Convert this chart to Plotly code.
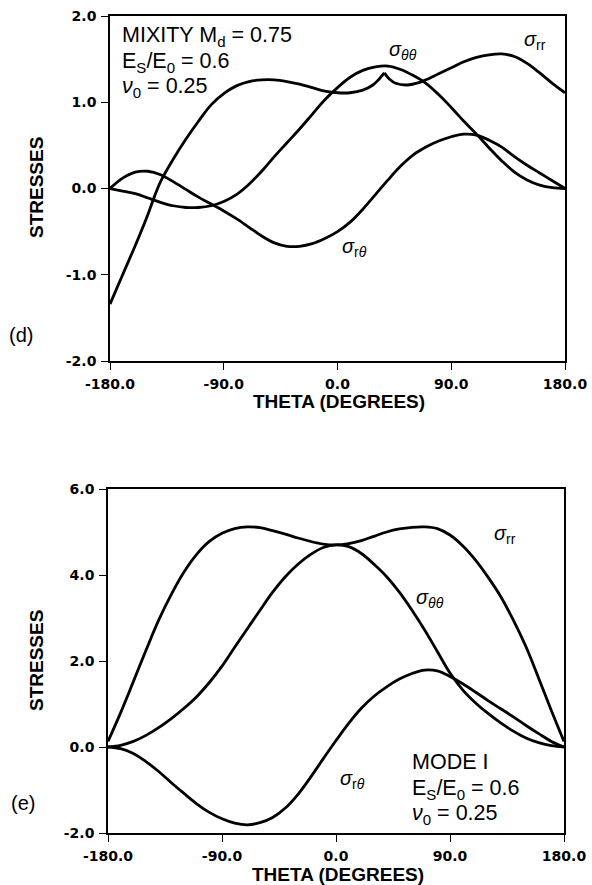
import plotly.graph_objects as go

# ---------------- data ----------------
# panel (d): mixity 0.75
THETA_D_RR = [-180, -170, -160, -150, -145, -140, -130, -120, -110, -100, -90, -80, -70, -60, -50,
              -40, -30, -20, -10, 0, 10, 20, 28, 33, 37, 41, 46, 55, 65, 70, 80, 90, 100, 110,
              120, 130, 140, 150, 160, 170, 180]
D_SRR = [-1.34, -1.0, -0.66, -0.30, -0.10, 0.08, 0.34, 0.57, 0.78, 0.97, 1.10, 1.19, 1.24, 1.26, 1.26,
         1.24, 1.21, 1.17, 1.13, 1.11, 1.11, 1.14, 1.20, 1.27, 1.34, 1.27, 1.22, 1.20, 1.23, 1.26, 1.33,
         1.40, 1.47, 1.52, 1.55, 1.56, 1.53, 1.45, 1.34, 1.22, 1.11]
CUSP_THETA = 37

THETA = [-180, -170, -160, -150, -140, -130, -120, -110, -100, -90, -80, -70, -60, -50, -40, -30,
         -20, -10, 0, 10, 20, 30, 40, 50, 60, 70, 80, 90, 100, 110, 120, 130, 140, 150, 160, 170, 180]
D_STT = [0, -0.03, -0.06, -0.11, -0.16, -0.20, -0.22, -0.22, -0.20, -0.15, -0.07, 0.05, 0.20, 0.37,
         0.53, 0.69, 0.86, 1.03, 1.17, 1.29, 1.37, 1.41, 1.42, 1.38, 1.31, 1.22, 1.09, 0.94, 0.78,
         0.63, 0.47, 0.32, 0.19, 0.10, 0.04, 0.01, 0]
D_SRT = [0, 0.12, 0.19, 0.20, 0.16, 0.08, -0.01, -0.10, -0.18, -0.26, -0.35, -0.45, -0.55, -0.63,
         -0.67, -0.67, -0.64, -0.58, -0.50, -0.39, -0.24, -0.07, 0.10, 0.26, 0.39, 0.48, 0.55, 0.60,
         0.63, 0.62, 0.56, 0.48, 0.37, 0.27, 0.18, 0.09, 0]

# panel (e): mode I
E_SRR = [0.13, 0.80, 1.52, 2.25, 2.95, 3.55, 4.07, 4.48, 4.78, 4.97, 5.08, 5.12, 5.10, 5.03, 4.95,
         4.86, 4.78, 4.72, 4.70, 4.73, 4.80, 4.90, 5.00, 5.07, 5.11, 5.12, 5.08, 4.93, 4.68, 4.35,
         3.95, 3.50, 2.95, 2.33, 1.60, 0.85, 0.13]
E_STT = [0, 0.04, 0.13, 0.27, 0.45, 0.66, 0.90, 1.17, 1.50, 1.88, 2.32, 2.75, 3.18, 3.60, 3.96,
         4.25, 4.48, 4.64, 4.70, 4.66, 4.50, 4.25, 3.96, 3.60, 3.18, 2.72, 2.22, 1.72, 1.33, 1.03,
         0.78, 0.56, 0.37, 0.21, 0.10, 0.03, 0]
E_SRT = [0, -0.04, -0.15, -0.34, -0.57, -0.83, -1.08, -1.32, -1.52, -1.67, -1.77, -1.81, -1.76,
         -1.64, -1.42, -1.10, -0.70, -0.27, 0.15, 0.55, 0.90, 1.18, 1.40, 1.58, 1.71, 1.79, 1.77,
         1.64, 1.47, 1.28, 1.08, 0.89, 0.70, 0.50, 0.31, 0.13, 0]

X_TICKS = [-180, -90, 0, 90, 180]
X_TICK_TEXT = ["-180.0", "-90.0", "0.0", "90.0", "180.0"]
D_Y_TICKS = [-2, -1, 0, 1, 2]
D_Y_TICK_TEXT = ["-2.0", "-1.0", "0.0", "1.0", "2.0"]
E_Y_TICKS = [-2, 0, 2, 4, 6]
E_Y_TICK_TEXT = ["-2.0", "0.0", "2.0", "4.0", "6.0"]

# ---------------- figure ----------------
W, H = 592, 885


def px(x):
    return x / W


def py(y):
    return 1 - y / H


LINE = dict(color="black", width=2.8, shape="spline", smoothing=1.0)

fig = go.Figure()
ci = THETA_D_RR.index(CUSP_THETA)
fig.add_trace(go.Scatter(x=THETA_D_RR[:ci + 1], y=D_SRR[:ci + 1], mode="lines", line=LINE,
                         xaxis="x", yaxis="y"))
fig.add_trace(go.Scatter(x=THETA_D_RR[ci:], y=D_SRR[ci:], mode="lines", line=LINE,
                         xaxis="x", yaxis="y"))
fig.add_trace(go.Scatter(x=THETA, y=D_STT, mode="lines", line=LINE, xaxis="x", yaxis="y"))
fig.add_trace(go.Scatter(x=THETA, y=D_SRT, mode="lines", line=LINE, xaxis="x", yaxis="y"))

fig.add_trace(go.Scatter(x=THETA, y=E_SRR, mode="lines", line=LINE, xaxis="x2", yaxis="y2"))
fig.add_trace(go.Scatter(x=THETA, y=E_STT, mode="lines", line=LINE, xaxis="x2", yaxis="y2"))
fig.add_trace(go.Scatter(x=THETA, y=E_SRT, mode="lines", line=LINE, xaxis="x2", yaxis="y2"))

TICKFONT = dict(family="DejaVu Sans", size=14, color="black", weight="bold")
AX = dict(showline=True, mirror=True, linecolor="black", linewidth=1.6, showgrid=False,
          zeroline=False, ticks="outside", ticklen=7, tickwidth=1.4, tickcolor="black",
          tickfont=TICKFONT, fixedrange=True, automargin=False)

fig.update_layout(
    width=W, height=H, margin=dict(l=0, r=0, t=0, b=0, pad=0),
    paper_bgcolor="white", plot_bgcolor="white", showlegend=False,
    xaxis=dict(AX, domain=[px(110), px(565)], range=[-180, 180], tickvals=X_TICKS,
               ticktext=X_TICK_TEXT, anchor="y", ticklabelstandoff=2),
    yaxis=dict(AX, domain=[py(361), py(16)], range=[-2, 2], tickvals=D_Y_TICKS,
               ticktext=D_Y_TICK_TEXT, anchor="x", ticklabelstandoff=2),
    xaxis2=dict(AX, domain=[px(108), px(564)], range=[-180, 180], tickvals=X_TICKS,
                ticktext=X_TICK_TEXT, anchor="y2", ticklabelstandoff=2),
    yaxis2=dict(AX, domain=[py(833), py(489)], range=[-2, 6], tickvals=E_Y_TICKS,
                ticktext=E_Y_TICK_TEXT, anchor="x2", ticklabelstandoff=2),
)

TXT = dict(family="Liberation Sans", size=21.5, color="black")
LAB = dict(family="Liberation Sans", size=20, color="black")
TITLE = dict(family="Liberation Sans", size=19, color="black", weight="bold")
SIG = dict(family="Liberation Sans", size=20, color="black")


def ann(x, y, text, font, xanchor="center", yanchor="middle", angle=0):
    fig.add_annotation(x=px(x), y=py(y), xref="paper", yref="paper", text=text, showarrow=False,
                       font=font, xanchor=xanchor, yanchor=yanchor, textangle=angle)


# panel (d)
ann(120, 36, "MIXITY M<sub>d</sub> = 0.75", TXT, xanchor="left")
ann(120, 62, "E<sub>S</sub>/E<sub>0</sub> = 0.6", TXT, xanchor="left")
ann(120, 87, "<i>ν</i><sub>0</sub> = 0.25", TXT, xanchor="left")
ann(403, 50, "<i>σ</i><sub><i>θθ</i></sub>", SIG)
ann(535, 40, "<i>σ</i><sub>rr</sub>", SIG)
ann(354, 248, "<i>σ</i><sub>r<i>θ</i></sub>", SIG)
ann(36, 188, "STRESSES", TITLE, angle=-90)
ann(339, 402, "THETA (DEGREES)", TITLE)
ann(21, 335, "(d)", LAB)

# panel (e)
ann(505, 534, "<i>σ</i><sub>rr</sub>", SIG)
ann(430, 598, "<i>σ</i><sub><i>θθ</i></sub>", SIG)
ann(352, 779, "<i>σ</i><sub>r<i>θ</i></sub>", SIG)
ann(410, 762, "MODE I", TXT, xanchor="left")
ann(410, 789, "E<sub>S</sub>/E<sub>0</sub> = 0.6", TXT, xanchor="left")
ann(410, 814, "<i>ν</i><sub>0</sub> = 0.25", TXT, xanchor="left")
ann(36, 661, "STRESSES", TITLE, angle=-90)
ann(338, 874, "THETA (DEGREES)", TITLE)
ann(23, 803, "(e)", LAB)

fig.write_html("out.html", config={"displayModeBar": False},
               post_script="document.body.style.margin='0';")
